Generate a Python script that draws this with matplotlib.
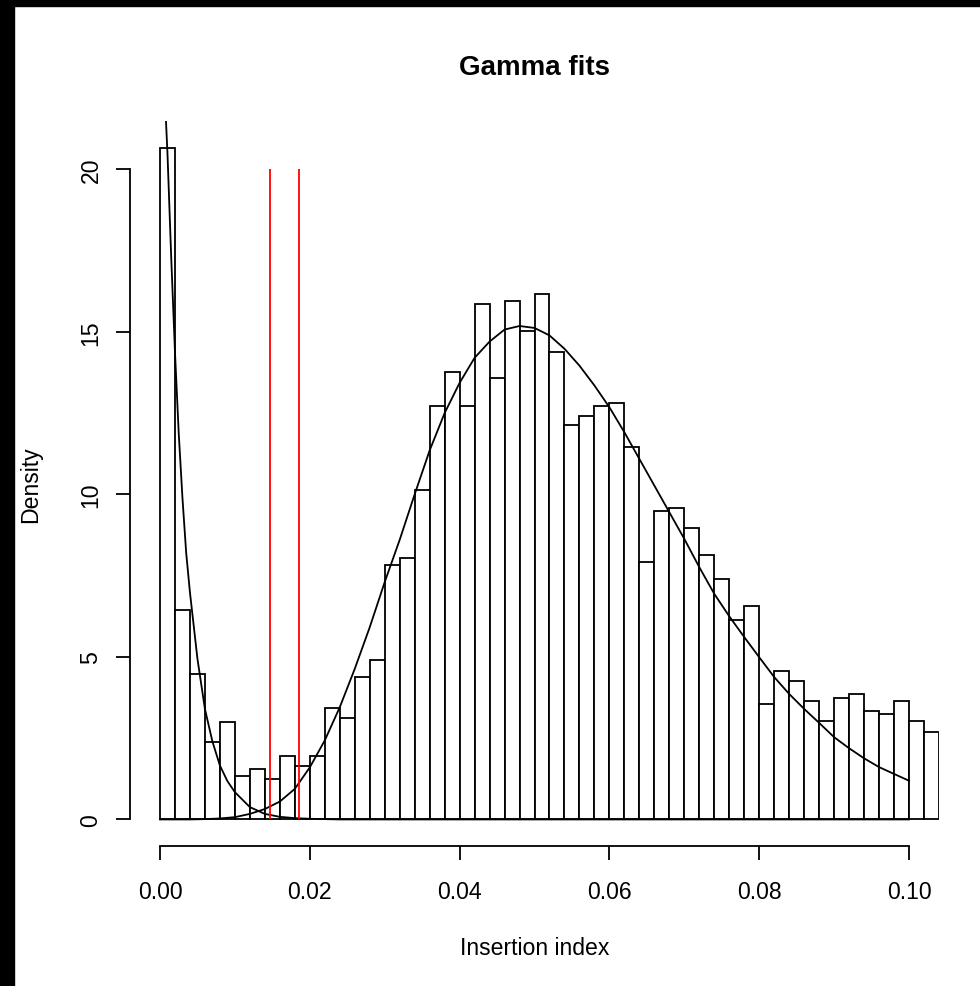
import matplotlib
matplotlib.use('Agg')
import matplotlib.pyplot as plt
from matplotlib.patches import Rectangle

plt.rcParams['font.family'] = ['Liberation Sans', 'DejaVu Sans']

# histogram: 52 bins of width 0.002 starting at 0
bin_start = 0.0
bin_width = 0.002
density = [20.66, 6.44, 4.46, 2.38, 3.00, 1.33, 1.55, 1.23, 1.96, 1.65,
           1.96, 3.43, 3.11, 4.37, 4.89, 7.82, 8.04, 10.13, 12.73, 13.77,
           12.73, 15.86, 13.57, 15.96, 15.04, 16.17, 14.39, 12.12, 12.42, 12.73,
           12.82, 11.47, 7.93, 9.50, 9.59, 8.98, 8.14, 7.41, 6.15, 6.57,
           3.55, 4.58, 4.27, 3.65, 3.02, 3.75, 3.86, 3.33, 3.23, 3.65,
           3.02, 2.70]

# first gamma fit (near zero)
fit1_x = [0.0008, 0.001, 0.0015, 0.002, 0.0025, 0.003, 0.0035, 0.004, 0.005,
          0.006, 0.007, 0.008, 0.009, 0.010, 0.012, 0.014, 0.016, 0.018,
          0.020, 0.024, 0.100]
fit1_y = [21.5, 20.5, 17.3, 14.4, 11.9, 9.9, 8.2, 6.99, 4.95,
          3.40, 2.40, 1.66, 1.18, 0.84, 0.38, 0.17, 0.08, 0.04,
          0.02, 0.0, 0.0]

# second gamma fit (main mode)
fit2_x = [0.000, 0.004, 0.006, 0.008, 0.010, 0.012, 0.014, 0.016, 0.018, 0.020,
          0.022, 0.024, 0.026, 0.028, 0.030, 0.032, 0.034, 0.036, 0.038, 0.040,
          0.042, 0.044, 0.046, 0.048, 0.050, 0.052, 0.054, 0.056, 0.058, 0.060,
          0.062, 0.064, 0.066, 0.068, 0.070, 0.072, 0.074, 0.076, 0.078, 0.080,
          0.082, 0.084, 0.086, 0.088, 0.090, 0.092, 0.094, 0.096, 0.098, 0.100]
fit2_y = [0.0, 0.0, 0.01, 0.03, 0.07, 0.17, 0.32, 0.55, 0.94, 1.60,
          2.43, 3.45, 4.63, 5.91, 7.30, 8.60, 10.00, 11.35, 12.50, 13.43,
          14.20, 14.70, 15.07, 15.18, 15.12, 14.89, 14.48, 13.96, 13.35, 12.68,
          11.91, 11.09, 10.27, 9.45, 8.63, 7.76, 6.94, 6.25, 5.61, 4.99,
          4.38, 3.86, 3.40, 2.97, 2.53, 2.19, 1.88, 1.61, 1.40, 1.19]

# cut-off markers
cutoffs = [0.01464, 0.01852]
cutoff_top = 20

x_ticks = [0.00, 0.02, 0.04, 0.06, 0.08, 0.10]
x_ticklabels = ['0.00', '0.02', '0.04', '0.06', '0.08', '0.10']
y_ticks = [0, 5, 10, 15, 20]

W, H = 980, 987
fig = plt.figure(figsize=(W / 100, H / 100), dpi=100)

# black strips left / top of the screenshot
fig.patches.append(Rectangle((0, 0), 14 / W, 1, transform=fig.transFigure,
                             color='black', zorder=0))
fig.patches.append(Rectangle((0, 1 - 7 / H), 1, 7 / H, transform=fig.transFigure,
                             color='black', zorder=0))

left, right, top, bottom = 130, 939, 122, 847.3
ax = fig.add_axes([left / W, 1 - bottom / H, (right - left) / W, (bottom - top) / H])
ax.patch.set_alpha(0)

edges = [bin_start + i * bin_width for i in range(len(density))]
ax.bar(edges, density, width=bin_width, align='edge', facecolor='white',
       edgecolor='black', linewidth=1.3)

ax.plot(fit1_x, fit1_y, color='black', linewidth=1.3)
ax.plot(fit2_x, fit2_y, color='black', linewidth=1.3)
ax.vlines(cutoffs, 0, cutoff_top, color='red', linewidth=1.3)

ymax = max(density)
ax.set_xlim(-0.004, 0.104)
ax.set_ylim(-0.04 * ymax, 1.04 * ymax)

for s in ['top', 'right']:
    ax.spines[s].set_visible(False)
ax.spines['left'].set_bounds(0, 20)
ax.spines['bottom'].set_bounds(0, 0.1)
ax.spines['left'].set_linewidth(1.3)
ax.spines['bottom'].set_linewidth(1.3)

ax.set_xticks(x_ticks)
ax.set_xticklabels(x_ticklabels)
ax.set_yticks(y_ticks)
ax.tick_params(direction='out', length=10.1, width=1.3, labelsize=16.6)
ax.tick_params(axis='x', pad=14)
ax.tick_params(axis='y', pad=9.7, labelrotation=90)
for lab in ax.get_yticklabels():
    lab.set_va('center')

cx = (left + right) / 2 / W
fig.text(cx, 1 - 75 / H, 'Gamma fits', ha='center', va='baseline',
         fontsize=20, fontweight='bold')
fig.text(cx, 1 - 955 / H, 'Insertion index', ha='center', va='baseline',
         fontsize=16.6)
fig.text(31 / W, 1 - 485 / H, 'Density', ha='center', va='center',
         rotation=90, fontsize=16.6)

fig.savefig('out.png', dpi=100)
